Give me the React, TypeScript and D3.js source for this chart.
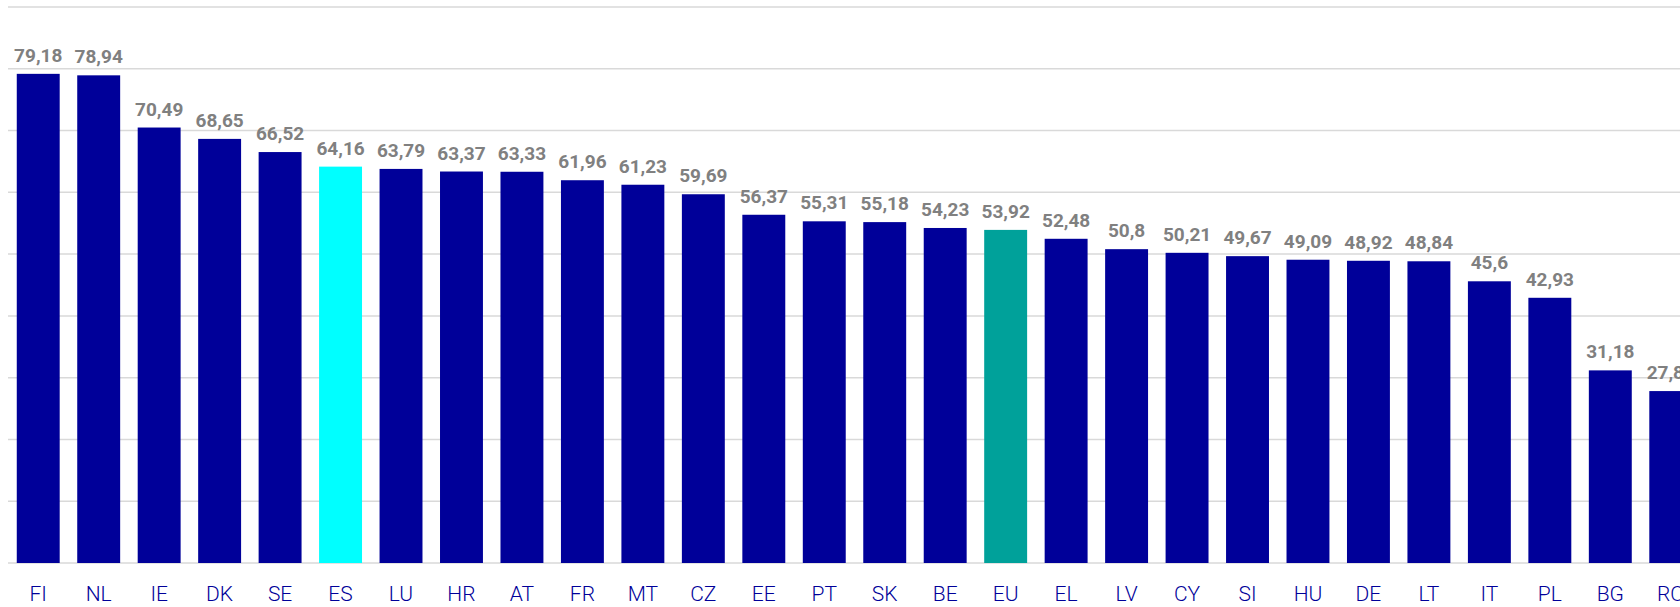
import React, { useEffect, useRef } from "react";
import * as d3 from "d3";

const countries = [
  "FI", "NL", "IE", "DK", "SE", "ES", "LU", "HR", "AT", "FR", "MT", "CZ", "EE", "PT",
  "SK", "BE", "EU", "EL", "LV", "CY", "SI", "HU", "DE", "LT", "IT", "PL", "BG", "RO",
];

const values = [
  79.18, 78.94, 70.49, 68.65, 66.52, 64.16, 63.79, 63.37, 63.33, 61.96, 61.23, 59.69, 56.37, 55.31,
  55.18, 54.23, 53.92, 52.48, 50.8, 50.21, 49.67, 49.09, 48.92, 48.84, 45.6, 42.93, 31.18, 27.83,
];

const gridTicks = [0, 10, 20, 30, 40, 50, 60, 70, 80, 90];

const highlight: Record<string, string> = { ES: "#00ffff", EU: "#00a19a" };

const App = () => {
  const svgRef = useRef<SVGSVGElement>(null);

  useEffect(() => {
    const width = 1680;
    const height = 607;
    const margin = { top: 7, left: 8, bottom: 44 };
    const plotRight = 1701;

    const data = countries.map((c, i) => ({ country: c, value: values[i] }));

    const svg = d3.select(svgRef.current);
    svg.selectAll("*").remove();

    const x = d3
      .scaleBand()
      .domain(countries)
      .range([margin.left, plotRight])
      .paddingInner(0.29)
      .paddingOuter(0.145);

    const y = d3
      .scaleLinear()
      .domain([0, 90])
      .range([height - margin.bottom, margin.top]);

    // líneas de cuadrícula
    svg
      .append("g")
      .selectAll("line")
      .data(gridTicks)
      .enter()
      .append("line")
      .attr("x1", margin.left)
      .attr("x2", width)
      .attr("y1", (d) => y(d))
      .attr("y2", (d) => y(d))
      .attr("stroke", "#d9d9d9")
      .attr("stroke-width", 1.5);

    // barras
    svg
      .append("g")
      .selectAll("rect")
      .data(data)
      .enter()
      .append("rect")
      .attr("x", (d) => x(d.country)!)
      .attr("y", (d) => y(d.value))
      .attr("width", x.bandwidth())
      .attr("height", (d) => y(0) - y(d.value))
      .attr("fill", (d) => highlight[d.country] || "#000099");

    // etiquetas de valor
    svg
      .append("g")
      .selectAll("text")
      .data(data)
      .enter()
      .append("text")
      .attr("x", (d) => x(d.country)! + x.bandwidth() / 2)
      .attr("y", (d) => y(d.value) - 12)
      .attr("text-anchor", "middle")
      .attr("font-family", "Roboto, sans-serif")
      .attr("font-weight", 700)
      .attr("font-size", 19)
      .attr("fill", "#808080")
      .text((d) => String(d.value).replace(".", ","));

    // eje X
    svg
      .append("g")
      .selectAll("text")
      .data(countries)
      .enter()
      .append("text")
      .attr("x", (d) => x(d)! + x.bandwidth() / 2)
      .attr("y", 601)
      .attr("text-anchor", "middle")
      .attr("font-family", "Roboto, sans-serif")
      .attr("font-weight", 300)
      .attr("font-size", 21)
      .attr("fill", "#000099")
      .text((d) => d);
  }, []);

  return (
    <svg
      ref={svgRef}
      width={1680}
      height={607}
      style={{ position: "absolute", left: 0, top: 0, background: "#fff" }}
    />
  );
};

export default App;
